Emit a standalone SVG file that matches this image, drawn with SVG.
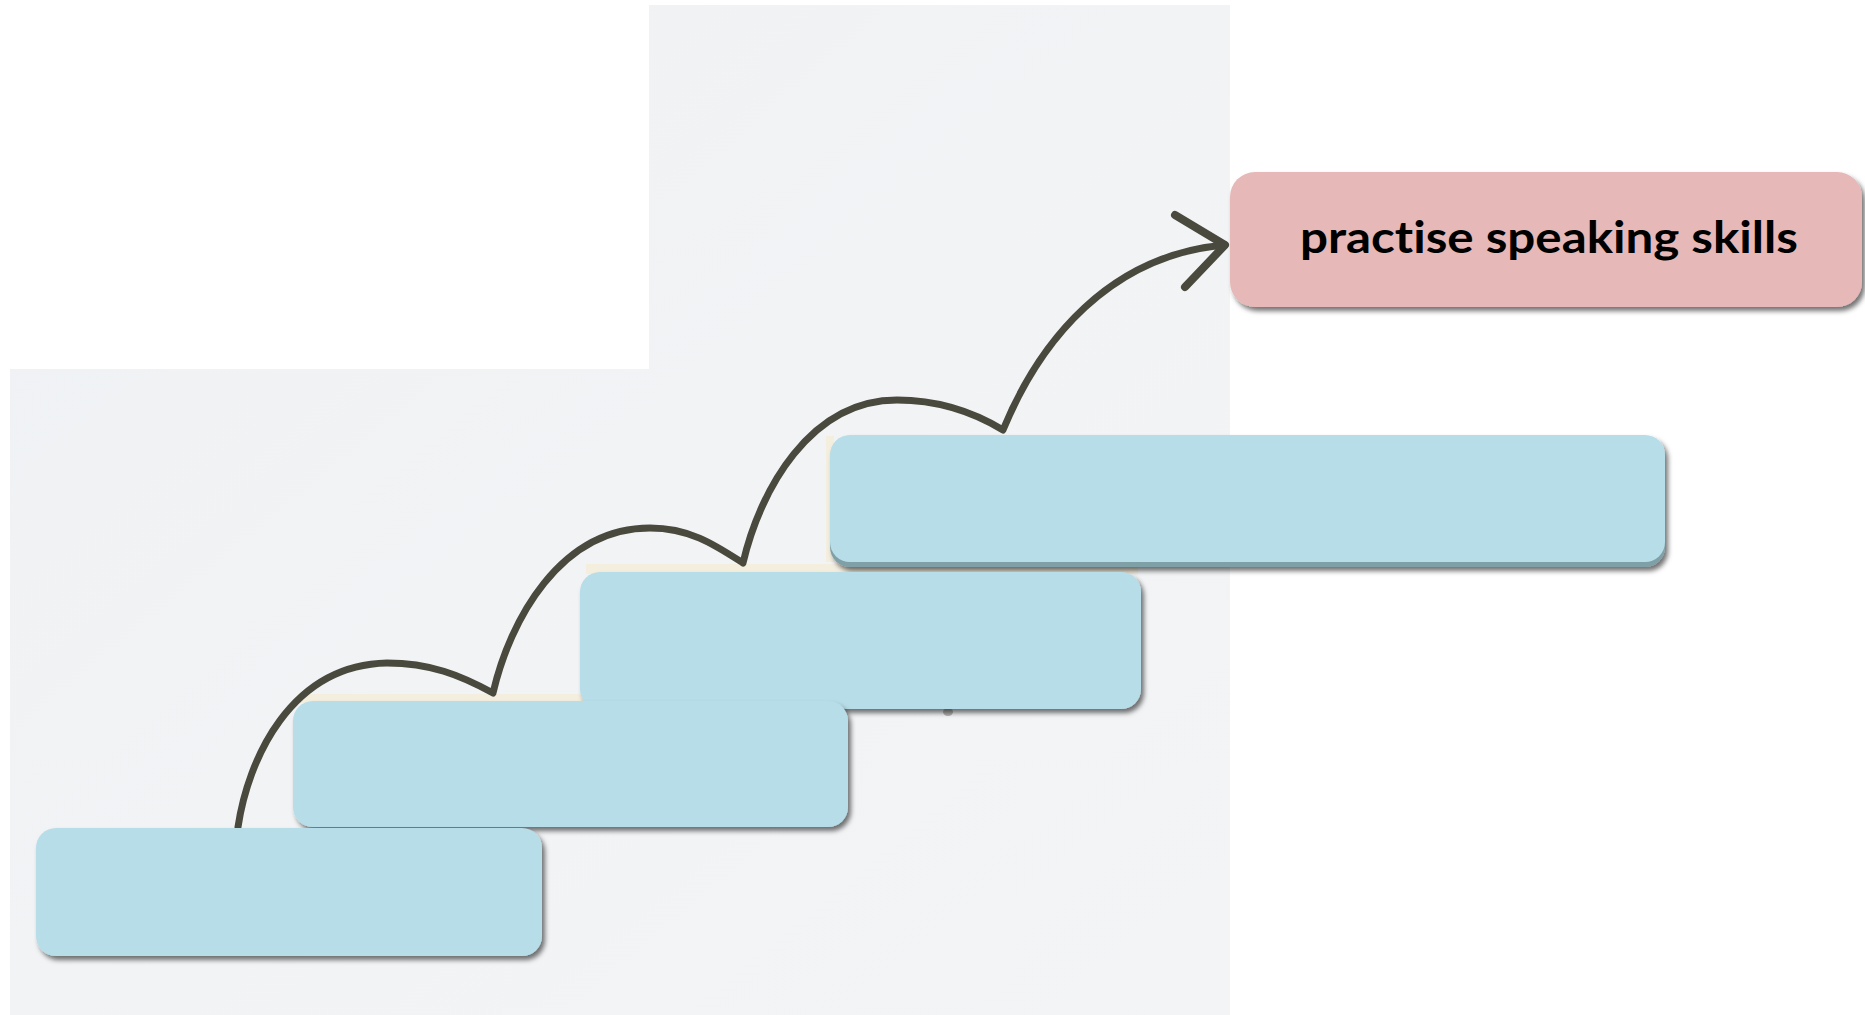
<svg xmlns="http://www.w3.org/2000/svg" width="1865" height="1015" viewBox="0 0 1865 1015">
  <defs>
    <linearGradient id="photo" x1="0" y1="0" x2="1" y2="1">
      <stop offset="0" stop-color="#EEF1F4"/>
      <stop offset="0.5" stop-color="#F2F3F5"/>
      <stop offset="1" stop-color="#F3F4F5"/>
    </linearGradient>
    <filter id="shadow" x="-5%" y="-10%" width="112%" height="130%">
      <feDropShadow dx="3" dy="4" stdDeviation="2.5" flood-color="#000000" flood-opacity="0.55"/>
    </filter>
    <filter id="soft" x="-10%" y="-10%" width="120%" height="120%">
      <feGaussianBlur stdDeviation="0.6"/>
    </filter>
  </defs>
  <style>
    .step { fill: #B7DDE8; }
    .shadowed { filter: url(#shadow); }
    .goal { fill: #E6B8B7; filter: url(#shadow); }
    .ledge { fill: #F4EEDF; }
    .curve { fill: none; stroke: #4A493E; stroke-width: 7; stroke-linecap: round; stroke-linejoin: round; }
    .label { font-family: Lato, "Open Sans", "Liberation Sans", sans-serif; font-weight: bold; font-size: 43px; fill: #000000; font-variant-ligatures: none; }
  </style>

  <rect width="1865" height="1015" fill="#FFFFFF"/>

  <g id="background">
    <path d="M649,5 H1230 V1015 H10 V369 H649 Z" fill="url(#photo)"/>
    <rect class="ledge" x="586" y="564" width="552" height="10"/>
    <rect class="ledge" x="298" y="694" width="546" height="9"/>
    <rect class="ledge" x="826" y="436" width="8" height="126"/>
    <ellipse cx="948" cy="712" rx="5" ry="4" fill="#8A8A86" opacity="0.6"/>
  </g>

  <g id="connectors">
    <path class="curve" filter="url(#soft)" d="M238,827 C248,760 290,665 387,663 C430,663 460,675 493,693 C510,620 560,528 650,528 C690,528 715,545 743,563 C760,490 810,400 897,400 C940,400 975,413 1003,430 C1040,340 1110,255 1225,245"/>
    <polyline class="curve" filter="url(#soft)" style="stroke-width:8" points="1175,215 1225,245 1185,287"/>
  </g>

  <g id="step4" class="shadowed">
    <rect x="830" y="440" width="835" height="127" rx="20" ry="20" fill="#7FA0A6"/>
    <rect class="step" x="830" y="435" width="835" height="127" rx="20" ry="20"/>
  </g>
  <g id="step3">
    <rect class="step shadowed" x="580" y="572" width="561" height="137" rx="20" ry="20"/>
  </g>
  <g id="step2">
    <rect class="step shadowed" x="293" y="701" width="555" height="126" rx="20" ry="20"/>
  </g>
  <g id="step1">
    <rect class="step shadowed" x="36" y="828" width="506" height="128" rx="20" ry="20"/>
  </g>

  <g id="goal">
    <rect class="goal" x="1230" y="172" width="632" height="135" rx="25" ry="25"/>
    <text class="label" x="1549" y="253" text-anchor="middle" textLength="498" lengthAdjust="spacingAndGlyphs">practise speaking skills</text>
  </g>
</svg>
